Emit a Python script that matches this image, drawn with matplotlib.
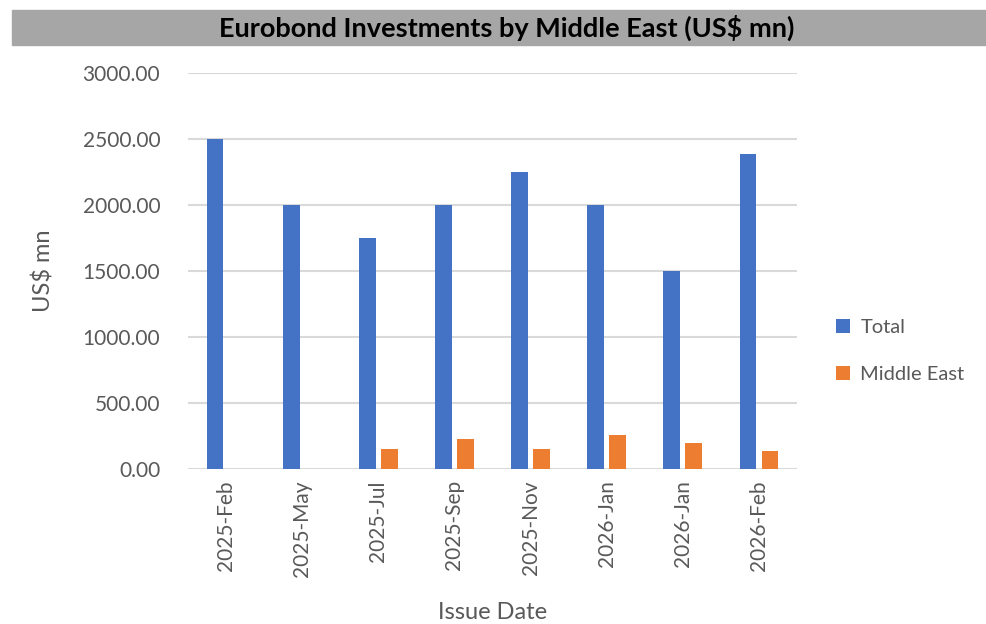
import numpy as np
import matplotlib.pyplot as plt
from matplotlib.patches import Rectangle

plt.rcParams['font.family'] = ['Lato', 'DejaVu Sans']

issue_dates = ['2025-Feb', '2025-May', '2025-Jul', '2025-Sep',
               '2025-Nov', '2026-Jan', '2026-Jan', '2026-Feb']
total = [2500, 2000, 1750, 2000, 2250, 2000, 1500, 2385]
middle_east = [0, 0, 150, 225, 150, 260, 200, 140]

blue = '#4472C4'
orange = '#ED7D31'
grey_text = '#595959'

fig = plt.figure(figsize=(9.86, 6.24), dpi=100)
ax = fig.add_axes([0.1907, 0.2484, 0.6176, 0.6346])

x = np.arange(len(issue_dates))
w = 0.22
ax.bar(x - 0.145, total, width=w, color=blue, label='Total', zorder=3)
ax.bar(x + 0.145, middle_east, width=w, color=orange, label='Middle East', zorder=3)

ax.set_xlim(-0.5, len(issue_dates) - 0.5)
ax.set_ylim(0, 3000)
ax.set_yticks(np.arange(0, 3001, 500))
ax.set_yticklabels([f'{v:.2f}' for v in np.arange(0, 3001, 500)])
ax.set_xticks(x)
ax.set_xticklabels(issue_dates, rotation=90, va='top', ha='center')

ax.grid(axis='y', color='#D9D9D9', lw=1.5, zorder=0)
for s in ax.spines.values():
    s.set_visible(False)
ax.tick_params(axis='both', length=0, labelsize=15, colors=grey_text)
ax.tick_params(axis='y', pad=20)
ax.tick_params(axis='x', pad=8)

ax.set_ylabel('US$ mn', fontsize=17, color=grey_text, labelpad=20)
ax.set_xlabel('Issue Date', fontsize=17, color=grey_text, labelpad=18)

# grey title banner across the top
fig.patches.append(Rectangle((12 / 986, 1 - 45 / 624), 1 - 12 / 986, 35 / 624,
                             transform=fig.transFigure, color='#A6A6A6', zorder=0))
fig.text(507 / 986, 1 - 28 / 624, 'Eurobond Investments by Middle East (US$ mn)',
         ha='center', va='center', fontsize=19.5, fontweight='bold', color='black')

fig.legend(loc='center left', bbox_to_anchor=(818 / 986, 1 - 351 / 624),
           frameon=False, fontsize=14.5, labelcolor=grey_text,
           handlelength=0.7, handleheight=0.7, handletextpad=0.5, labelspacing=1.5)

fig.savefig('out.png', dpi=100)
